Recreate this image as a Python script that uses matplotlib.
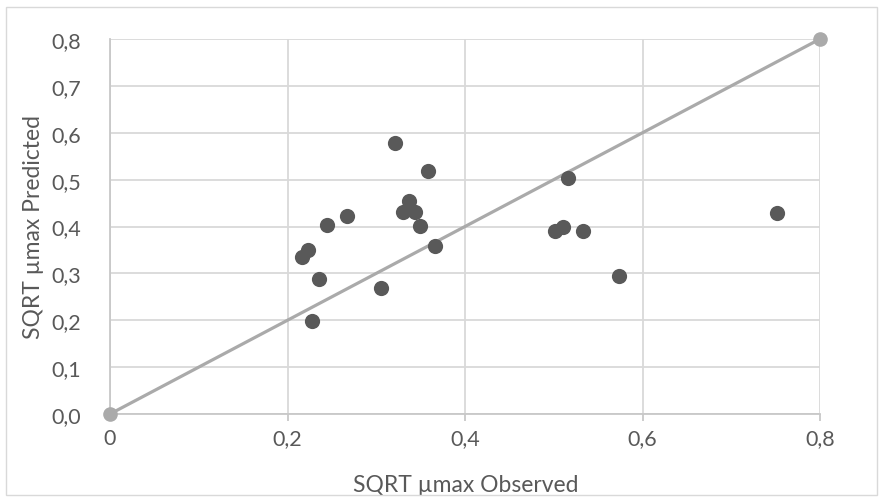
import matplotlib
matplotlib.use("Agg")
import matplotlib.pyplot as plt
from matplotlib.ticker import FuncFormatter
from matplotlib.patches import Rectangle

plt.rcParams['font.family'] = ['Lato', 'DejaVu Sans']

# observed vs predicted sqrt(umax)
observed = [0.321, 0.358, 0.337, 0.330, 0.344, 0.349, 0.366, 0.267, 0.245, 0.223,
            0.216, 0.235, 0.305, 0.228, 0.516, 0.501, 0.510, 0.533, 0.573, 0.752]
predicted = [0.578, 0.518, 0.455, 0.430, 0.432, 0.401, 0.359, 0.423, 0.403, 0.350,
             0.334, 0.288, 0.269, 0.198, 0.503, 0.391, 0.400, 0.391, 0.295, 0.429]

# 1:1 reference line
ref_x = [0.0, 0.8]
ref_y = [0.0, 0.8]

x_ticks = [0, 0.2, 0.4, 0.6, 0.8]
y_ticks = [0.0, 0.1, 0.2, 0.3, 0.4, 0.5, 0.6, 0.7, 0.8]

text_color = '#595959'
grid_color = '#d9d9d9'

fig = plt.figure(figsize=(8.83, 5.02), dpi=100)
fig.patches.append(Rectangle((6 / 883, 6 / 502), 871 / 883, 488 / 502,
                             transform=fig.transFigure, fill=False,
                             edgecolor=grid_color, linewidth=1.0))

ax = fig.add_axes([110 / 883, 1 - 415 / 502, 710 / 883, 375 / 502])

ax.plot(ref_x, ref_y, color='#aaaaaa', linewidth=2.3, marker='o', markersize=9.5,
        clip_on=False, zorder=3)
ax.scatter(observed, predicted, s=120, color='#595959', zorder=4, linewidths=0)

ax.set_xlim(0, 0.8)
ax.set_ylim(0, 0.8)
ax.set_xticks(x_ticks)
ax.set_yticks(y_ticks)
ax.xaxis.set_major_formatter(FuncFormatter(lambda v, p: ('%g' % round(v, 1)).replace('.', ',')))
ax.yaxis.set_major_formatter(FuncFormatter(lambda v, p: ('%.1f' % v).replace('.', ',')))

ax.grid(True, color=grid_color, linewidth=1.3, zorder=0)
ax.set_axisbelow(True)
for s in ['top', 'right']:
    ax.spines[s].set_visible(False)
for s in ['left', 'bottom']:
    ax.spines[s].set_color('#c8c8c8')
    ax.spines[s].set_linewidth(1.3)

ax.tick_params(axis='x', colors='#c8c8c8', labelcolor=text_color, labelsize=15.5,
               length=5, width=1.3, pad=5)
ax.tick_params(axis='y', length=0, labelcolor=text_color, labelsize=15.5, pad=21)

ax.set_xlabel('SQRT µmax Observed', fontsize=16.5, color=text_color)
ax.set_ylabel('SQRT µmax Predicted', fontsize=16.5, color=text_color)
ax.xaxis.set_label_coords(0.501, -0.189)
ax.xaxis.label.set_va('center')
ax.yaxis.set_label_coords(-0.108, 0.5)
ax.yaxis.label.set_va('center')

fig.savefig('out.png', dpi=100)
